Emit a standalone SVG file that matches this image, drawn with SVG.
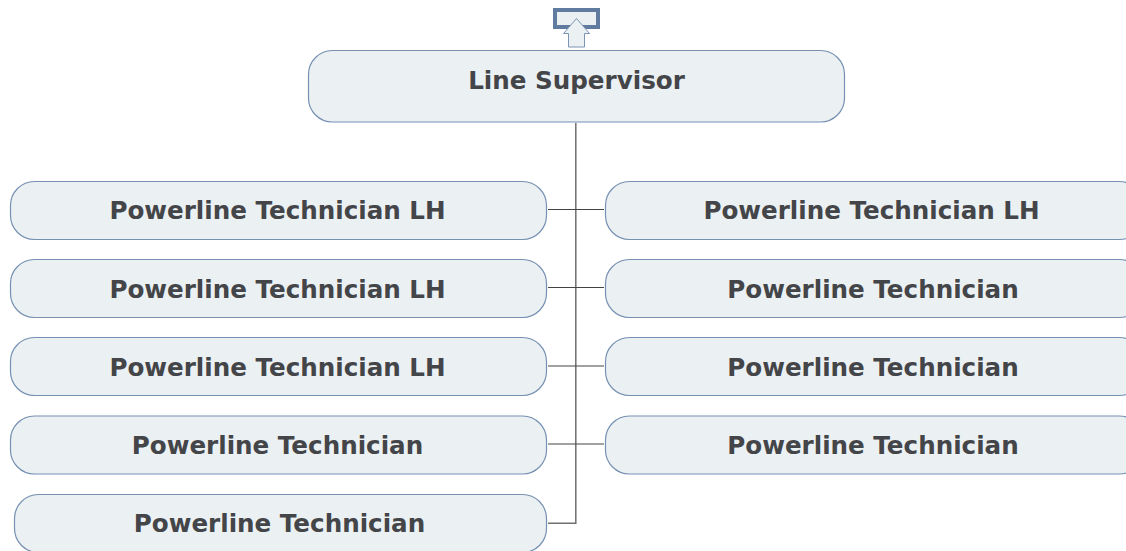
<svg xmlns="http://www.w3.org/2000/svg" width="1126" height="551" viewBox="0 0 1126 551">
<style>
.b{fill:#ebf0f3;stroke:#7590b1;stroke-width:1.2}
.t{font-family:"DejaVu Sans",Verdana,sans-serif;font-weight:700;font-size:24.600px;fill:#434548;text-anchor:middle}
.h{fill:none;stroke:#444;stroke-width:1.2}
.v{fill:none;stroke:#707070;stroke-width:1.500}
</style>
<rect width="1126" height="551" fill="#fff"/>
<g id="connectors">
<path class="v" d="M575.800 123V523.300H548"/>
<path class="h" d="M548 209.500H604M548 287.500H604M548 366H604M548 444H604"/>
</g>
<g id="rollup">
<rect x="555" y="10" width="43" height="17" fill="#ebf0f3" stroke="#5f7ba0" stroke-width="4"/>
<path d="M576.500 18.500L589.500 33.500H584.500V47H568.500V33.500H563.500Z" fill="#ebf0f3" stroke="#7d94b4" stroke-width="1"/>
</g>
<g id="n0"><rect class="b" x="308.500" y="50.500" width="536" height="71.500" rx="24"/><text class="t" x="576.500" y="88.500">Line Supervisor</text></g>
<g id="n1"><rect class="b" x="10.500" y="181.500" width="536" height="58" rx="24"/><text class="t" x="277.500" y="219">Powerline Technician LH</text></g>
<g id="n2"><rect class="b" x="10.500" y="259.500" width="536" height="58" rx="24"/><text class="t" x="277.500" y="297.500">Powerline Technician LH</text></g>
<g id="n3"><rect class="b" x="10.500" y="337.500" width="536" height="58" rx="24"/><text class="t" x="277.500" y="375.500">Powerline Technician LH</text></g>
<g id="n4"><rect class="b" x="10.500" y="416" width="536" height="58" rx="24"/><text class="t" x="277.500" y="454">Powerline Technician</text></g>
<g id="n5"><rect class="b" x="14.500" y="494.500" width="532" height="58" rx="24"/><text class="t" x="279.500" y="532">Powerline Technician</text></g>
<g id="n6"><rect class="b" x="605.500" y="181.500" width="538" height="58" rx="24"/><text class="t" x="871.500" y="219">Powerline Technician LH</text></g>
<g id="n7"><rect class="b" x="605.500" y="259.500" width="538" height="58" rx="24"/><text class="t" x="873" y="297.500">Powerline Technician</text></g>
<g id="n8"><rect class="b" x="605.500" y="337.500" width="538" height="58" rx="24"/><text class="t" x="873" y="375.500">Powerline Technician</text></g>
<g id="n9"><rect class="b" x="605.500" y="416" width="538" height="58" rx="24"/><text class="t" x="873" y="454">Powerline Technician</text></g>
</svg>
